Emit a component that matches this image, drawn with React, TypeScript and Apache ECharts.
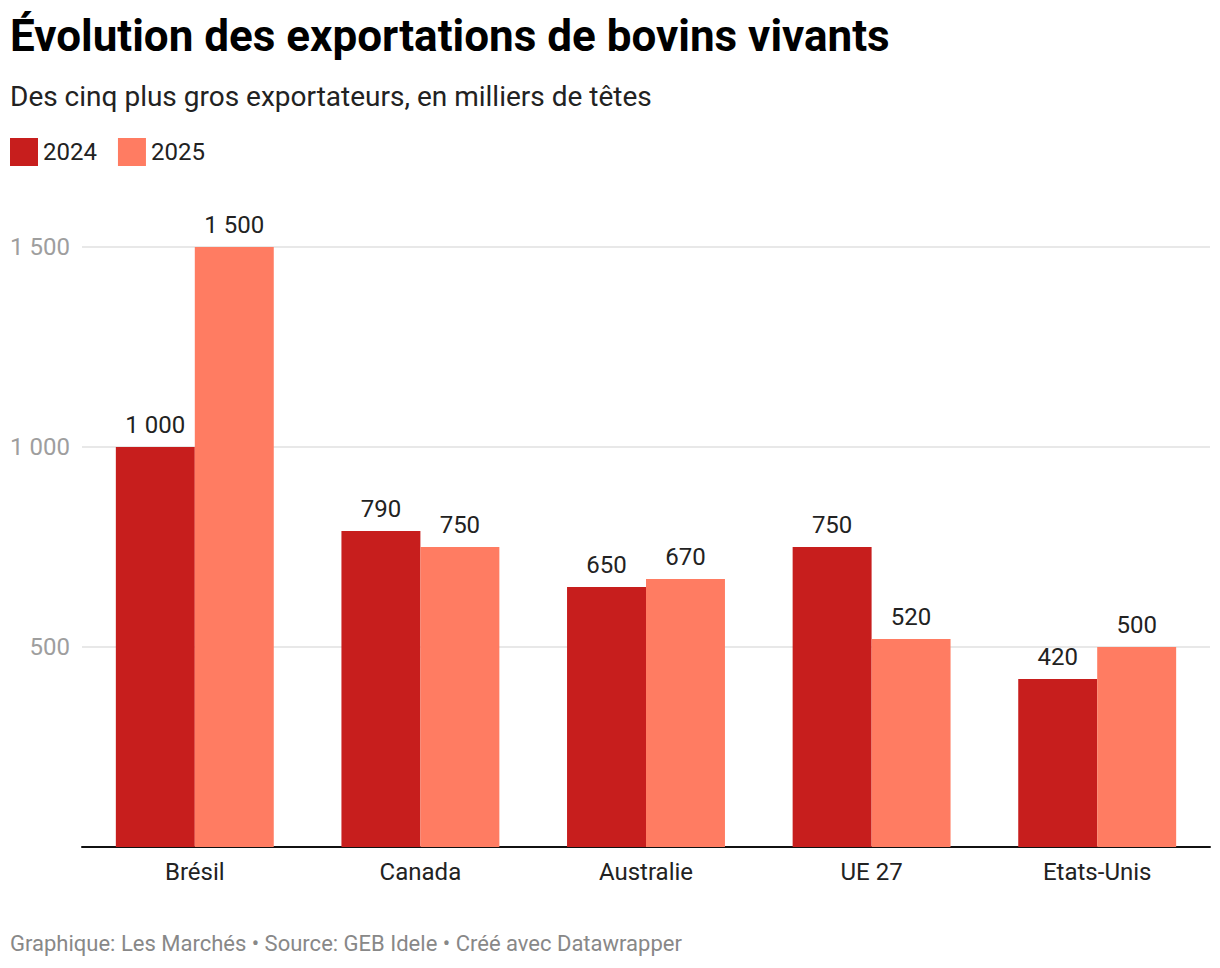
import React, { useEffect, useRef } from "react";
import * as echarts from "echarts";

const categories = ["Brésil", "Canada", "Australie", "UE 27", "Etats-Unis"];
const seriesNames = ["2024", "2025"];
const values2024 = [1000, 790, 650, 750, 420];
const values2025 = [1500, 750, 670, 520, 500];
const yTicks = [0, 500, 1000, 1500];

const TITLE = "Évolution des exportations de bovins vivants";
const SUBTITLE = "Des cinq plus gros exportateurs, en milliers de têtes";
const FOOTER = "Graphique: Les Marchés • Source: GEB Idele • Créé avec Datawrapper";

const COLORS = ["#c71e1d", "#ff7c62"];
const FONT = "Roboto, 'Noto Sans', sans-serif";

const fmt = (v: number) => String(v).replace(/\B(?=(\d{3})+(?!\d))/g, " ");

export default function App() {
  const ref = useRef<HTMLDivElement>(null);

  useEffect(() => {
    document.body.style.margin = "0";
    if (!ref.current) return;
    const chart = echarts.init(ref.current, null, { renderer: "svg" });

    const barLabel = {
      show: true,
      position: "top" as const,
      distance: 10,
      color: "#222",
      fontFamily: FONT,
      fontSize: 24,
      formatter: (p: any) => fmt(p.value),
    };

    chart.setOption({
      animation: false,
      backgroundColor: "#fff",
      textStyle: { fontFamily: FONT },
      graphic: [
        {
          type: "text",
          left: 10,
          top: 14,
          style: { text: TITLE, font: `bold 44px ${FONT}`, fill: "#000" },
        },
        {
          type: "text",
          left: 10,
          top: 82,
          style: { text: SUBTITLE, font: `28px ${FONT}`, fill: "#222" },
        },
        {
          type: "text",
          left: 10,
          top: 932,
          style: { text: FOOTER, font: `22px ${FONT}`, fill: "#888" },
        },
      ],
      legend: {
        left: 10,
        top: 138,
        padding: 0,
        icon: "rect",
        itemWidth: 28,
        itemHeight: 28,
        itemGap: 21,
        textStyle: { fontFamily: FONT, fontSize: 24, color: "#222", padding: [2, 0, 0, 0] },
        data: seriesNames,
      },
      grid: { left: 82, right: 10, top: 247, bottom: 121, containLabel: false },
      xAxis: {
        type: "category",
        data: categories,
        axisLine: { show: true, lineStyle: { color: "#111", width: 2 } },
        axisTick: { show: false },
        axisLabel: { color: "#222", fontFamily: FONT, fontSize: 24, margin: 13 },
      },
      yAxis: {
        type: "value",
        min: yTicks[0],
        max: yTicks[yTicks.length - 1],
        interval: 500,
        axisLine: { show: false },
        axisTick: { show: false },
        splitLine: { lineStyle: { color: "#e0e0e0", width: 1.5 } },
        axisLabel: {
          color: "#9e9e9e",
          fontFamily: FONT,
          fontSize: 24,
          margin: 12,
          formatter: (v: number) => (v === 0 ? "" : fmt(v)),
        },
      },
      series: [
        {
          name: seriesNames[0],
          type: "bar",
          data: values2024,
          itemStyle: { color: COLORS[0] },
          barGap: "0%",
          barCategoryGap: "30%",
          label: barLabel,
        },
        {
          name: seriesNames[1],
          type: "bar",
          data: values2025,
          itemStyle: { color: COLORS[1] },
          barGap: "0%",
          barCategoryGap: "30%",
          label: barLabel,
        },
      ],
    });

    return () => chart.dispose();
  }, []);

  return <div ref={ref} style={{ width: 1220, height: 968 }} />;
}
